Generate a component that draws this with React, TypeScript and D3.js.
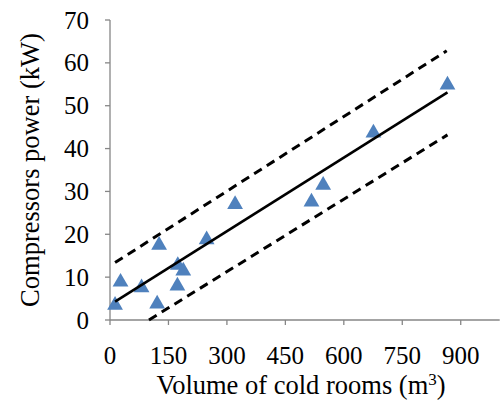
import React from "react";
import * as d3 from "d3";

const volumes = [13, 27, 81, 121, 126, 174, 188, 173, 248, 321, 517, 547, 676, 866];
const powers = [3.7, 9.1, 7.8, 4.0, 17.7, 13.0, 11.7, 8.2, 19.0, 27.2, 27.8, 31.7, 43.9, 55.1];

const fitX = [13, 866];
const fitY = [4.3, 53.1];
const upperX = [13, 864];
const upperY = [13.4, 62.8];
const lowerX = [100, 866];
const lowerY = [0, 43.2];

const xTicks = [0, 150, 300, 450, 600, 750, 900];
const yTicks = [0, 10, 20, 30, 40, 50, 60, 70];

const W = 502;
const H = 405;

export default function App() {
  const x = d3.scaleLinear().domain([0, 1000]).range([110, 499.7]);
  const y = d3.scaleLinear().domain([0, 70]).range([320, 20]);
  const line = d3
    .line<[number, number]>()
    .x((d) => x(d[0]))
    .y((d) => y(d[1]));
  const tri = d3.symbol().type(d3.symbolTriangle).size(108)();
  const pairs = (xs: number[], ys: number[]) => xs.map((v, i) => [v, ys[i]] as [number, number]);
  const axisColor = "#868686";
  const font = "'Liberation Serif', 'Times New Roman', serif";

  return (
    <svg
      width={W}
      height={H}
      style={{ position: "absolute", left: 0, top: 0, background: "#fff" }}
      fontFamily={font}
    >
      {/* Y axis */}
      <line x1={x(0)} x2={x(0)} y1={y(0)} y2={y(70)} stroke={axisColor} strokeWidth={1.3} />
      {yTicks.map((t) => (
        <g key={"y" + t}>
          <line x1={x(0) - 5} x2={x(0)} y1={y(t)} y2={y(t)} stroke={axisColor} strokeWidth={1.3} />
          <text x={89} y={y(t)} dy="0.34em" textAnchor="end" fontSize={25} fill="#000">
            {t}
          </text>
        </g>
      ))}
      {/* X axis */}
      <line x1={x(0)} x2={x(1000)} y1={y(0)} y2={y(0)} stroke={axisColor} strokeWidth={1.3} />
      {xTicks.map((t) => (
        <g key={"x" + t}>
          <line x1={x(t)} x2={x(t)} y1={y(0)} y2={y(0) + 5} stroke={axisColor} strokeWidth={1.3} />
          <text x={x(t)} y={364} textAnchor="middle" fontSize={25} fill="#000">
            {t}
          </text>
        </g>
      ))}
      {/* Axis titles */}
      <text x={301} y={394} textAnchor="middle" fontSize={26.5} fill="#000">
        Volume of cold rooms (m
        <tspan fontSize={17} dy={-9}>3</tspan>
        <tspan dy={9}>)</tspan>
      </text>
      <text
        transform={`translate(39,170) rotate(-90)`}
        textAnchor="middle"
        fontSize={26.5}
        fill="#000"
      >
        Compressors power (kW)
      </text>
      {/* Lines */}
      <path d={line(pairs(upperX, upperY)) || ""} fill="none" stroke="#000" strokeWidth={3} strokeDasharray="9 6" />
      <path d={line(pairs(lowerX, lowerY)) || ""} fill="none" stroke="#000" strokeWidth={3} strokeDasharray="9 6" />
      {/* Points */}
      {volumes.map((v, i) => (
        <path key={"p" + i} d={tri || ""} transform={`translate(${x(v)},${y(powers[i]) + 1})`} fill="#4F81BD" />
      ))}
      <path d={line(pairs(fitX, fitY)) || ""} fill="none" stroke="#000" strokeWidth={2.6} />
    </svg>
  );
}
